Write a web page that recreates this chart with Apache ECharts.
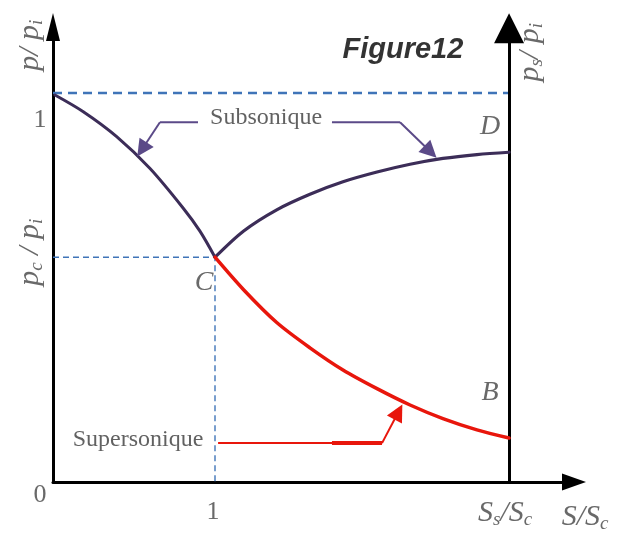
<!DOCTYPE html>
<html>
<head>
<meta charset="utf-8">
<script src="https://cdn.jsdelivr.net/npm/echarts@6/dist/echarts.min.js"></script>
<style>
  html, body { margin: 0; padding: 0; background: #ffffff; }
  #chart { width: 618px; height: 537px; }
</style>
</head>
<body>
<div id="chart"></div>
<script>
// Pressure ratio p/pi against area ratio S/Sc (nozzle flow regimes)
// Curve 0 -> C (subsonic, converging part)
const subsonicInX = [0.012, 0.187, 0.393, 0.599, 0.804, 0.907, 1.000];
const subsonicInY = [0.995, 0.952, 0.888, 0.806, 0.704, 0.645, 0.578];
// Curve C -> D (subsonic, diverging part)
const subsonicOutX = [1.000, 1.175, 1.381, 1.586, 1.790, 2.000, 2.204, 2.407, 2.617, 2.815];
const subsonicOutY = [0.578, 0.645, 0.700, 0.740, 0.772, 0.797, 0.817, 0.832, 0.842, 0.848];
// Curve C -> B (supersonic, diverging part)
const supersonicX = [1.000, 1.175, 1.381, 1.586, 1.790, 2.000, 2.204, 2.407, 2.617, 2.815];
const supersonicY = [0.578, 0.495, 0.410, 0.345, 0.288, 0.240, 0.198, 0.163, 0.134, 0.113];

// Reference levels
const inletRatio = 1.0;      // p/pi = 1
const criticalRatio = 0.578; // pc/pi at the throat C
const throatArea = 1.0;      // S/Sc = 1
const exitArea = 2.815;      // Ss/Sc

// Axis extents
const xMax = 3.216;
const yMax = 1.170;
const rightAxisTop = 1.167;

// Annotation text and anchors
const labelNames = ['Subsonique', 'Supersonique', 'D', 'B', 'C', '0', '1x', '1y', 'SsSc', 'SSc', 'ppi', 'pcpi', 'pspi', 'title'];
const labelX = [1.315, 0.525, 2.698, 2.698, 0.932, -0.080, 0.988, -0.080, 2.790, 3.284, -0.142, -0.142, 2.944, 2.160];
const labelY = [0.938, 0.108, 0.913, 0.229, 0.512, -0.033, -0.077, 0.931, -0.080, -0.090, 1.123, 0.591, 1.105, 1.110];

// Pointer arrows from the regime names to the curves: [start, bend, arrow]
const pointerSubLeft = [[0.895, 0.925], [0.660, 0.925], [0.549, 0.855]];
const pointerSubRight = [[1.722, 0.925], [2.142, 0.925], [2.330, 0.849]];
const pointerSuper = [[1.019, 0.100], [2.031, 0.100], [2.132, 0.180]];
const pointerSuperBold = [[1.722, 0.100], [2.031, 0.100]];

const zip = (xs, ys) => xs.map((x, i) => [x, ys[i]]);

const PURPLE = '#3c2d58';
const POINTER = '#5b4a88';
const RED = '#e8160c';
const BLUE = '#3f74b8';
const TEXT = '#444444';
const SERIF = '"Liberation Serif", "DejaVu Serif", serif';

const it = { fontFamily: SERIF, fontStyle: 'italic', fontSize: 30, color: TEXT, lineHeight: 36 };
const sub = { fontFamily: SERIF, fontStyle: 'italic', fontSize: 19, color: TEXT, lineHeight: 36, padding: [14, 0, 0, 0] };
const richBase = { i: it, s: sub };

const labelStyles = {
  Subsonique: { formatter: 'Subsonique', fontFamily: SERIF, fontSize: 24, color: '#3a3a3a' },
  Supersonique: { formatter: 'Supersonique', fontFamily: SERIF, fontSize: 24, color: '#3a3a3a' },
  D: { formatter: 'D', fontFamily: SERIF, fontStyle: 'italic', fontSize: 28, color: TEXT },
  B: { formatter: 'B', fontFamily: SERIF, fontStyle: 'italic', fontSize: 28, color: TEXT },
  C: { formatter: 'C', fontFamily: SERIF, fontStyle: 'italic', fontSize: 28, color: TEXT },
  '0': { formatter: '0', fontFamily: SERIF, fontSize: 26, color: TEXT },
  '1x': { formatter: '1', fontFamily: SERIF, fontSize: 26, color: TEXT },
  '1y': { formatter: '1', fontFamily: SERIF, fontSize: 26, color: TEXT },
  SsSc: { formatter: '{i|S}{s|s}{i|/S}{s|c}', rich: richBase },
  SSc: { formatter: '{i|S/S}{s|c}', rich: richBase },
  ppi: { formatter: '{i|p/ p}{s|i}', rich: richBase, rotate: 90 },
  pcpi: { formatter: '{i|p}{s|c}{i| / p}{s|i}', rich: richBase, rotate: 90 },
  pspi: { formatter: '{i|p}{s|s}{i|/ p}{s|i}', rich: richBase, rotate: 90 },
  title: { formatter: 'Figure12', fontFamily: '"Liberation Sans Narrow", "Liberation Sans", sans-serif', fontStyle: 'italic', fontWeight: 'bold', fontSize: 29, color: '#000000' }
};

const labelData = labelNames.map((n, i) => ({
  value: [labelX[i], labelY[i]],
  label: Object.assign({ show: true, position: 'inside', align: 'center', verticalAlign: 'middle' }, labelStyles[n])
}));

const curveLine = (data, color, width) => ({
  type: 'line', data, showSymbol: false, smooth: 0.3, silent: true, z: 5,
  lineStyle: { color, width, cap: 'round' }
});

// A pointer: straight leader to the bend, then an arrowed leg to the curve
const pointer = (pts, color, width) => [
  { type: 'line', data: pts.slice(0, 2), showSymbol: false, silent: true, z: 6,
    lineStyle: { color, width } },
  { type: 'lines', coordinateSystem: 'cartesian2d', silent: true, z: 6, clip: false,
    symbol: ['none', 'triangle'], symbolSize: [11, 17],
    lineStyle: { color, width, opacity: 1, curveness: 0 },
    data: [{ coords: pts.slice(1, 3) }] }
];

const chart = echarts.init(document.getElementById('chart'), null, { renderer: 'canvas' });
chart.setOption({
  animation: false,
  backgroundColor: '#ffffff',
  grid: { left: 53, right: 44, top: 27, bottom: 55, containLabel: false },
  xAxis: {
    type: 'value', min: 0, max: xMax,
    axisLine: { show: true, onZero: false, lineStyle: { color: '#000', width: 3 }, symbol: ['none', 'triangle'], symbolSize: [17, 24] },
    axisTick: { show: false }, axisLabel: { show: false }, splitLine: { show: false }
  },
  yAxis: {
    type: 'value', min: 0, max: yMax,
    axisLine: { show: true, onZero: false, lineStyle: { color: '#000', width: 3 }, symbol: ['none', 'triangle'], symbolSize: [14, 28] },
    axisTick: { show: false }, axisLabel: { show: false }, splitLine: { show: false }
  },
  series: [
    { type: 'line', data: [[0, inletRatio], [exitArea, inletRatio]], showSymbol: false, silent: true, z: 3,
      lineStyle: { color: BLUE, width: 2.5, type: [9, 6] } },
    { type: 'line', data: [[0, criticalRatio], [throatArea, criticalRatio], [throatArea, 0]], showSymbol: false, silent: true, z: 3,
      lineStyle: { color: BLUE, width: 1.4, type: [6, 4] } },
    curveLine(zip(subsonicInX, subsonicInY), PURPLE, 3),
    curveLine(zip(subsonicOutX, subsonicOutY), PURPLE, 3.2),
    curveLine(zip(supersonicX, supersonicY), RED, 3.5),
    { type: 'lines', coordinateSystem: 'cartesian2d', silent: true, z: 4, clip: false,
      symbol: ['none', 'triangle'], symbolSize: [15, 30],
      lineStyle: { color: '#000', width: 3, opacity: 1 },
      data: [{ coords: [[exitArea, 0], [exitArea, rightAxisTop]] }] },
    ...pointer(pointerSubLeft, POINTER, 2),
    ...pointer(pointerSubRight, POINTER, 2),
    ...pointer(pointerSuper, RED, 2),
    { type: 'line', data: pointerSuperBold, showSymbol: false, silent: true, z: 6,
      lineStyle: { color: RED, width: 4 } },
    { type: 'scatter', data: labelData, symbolSize: 0, silent: true, clip: false, z: 10 }
  ]
});
</script>
</body>
</html>
